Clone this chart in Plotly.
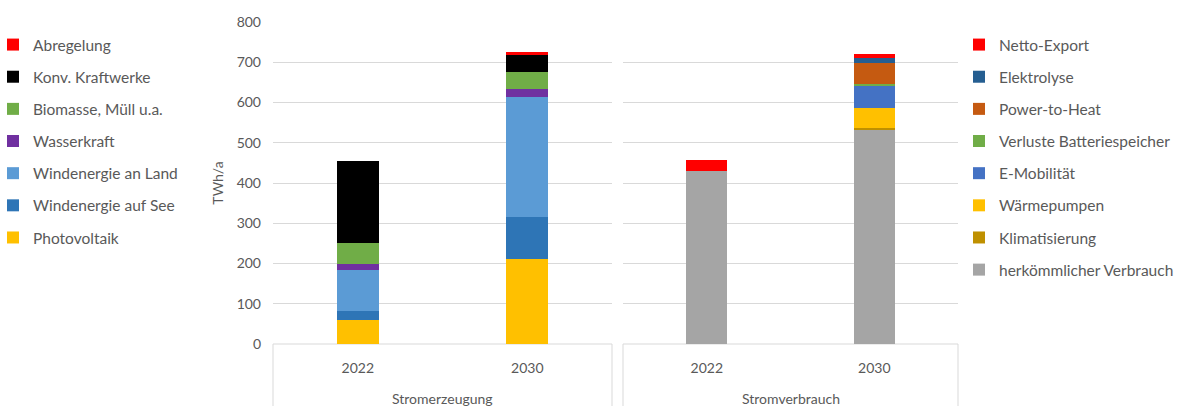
import plotly.graph_objects as go

years = ["2022", "2030"]

# Stromerzeugung (TWh/a), bottom to top
gen_series = ["Photovoltaik", "Windenergie auf See", "Windenergie an Land",
              "Wasserkraft", "Biomasse, Müll u.a.", "Konv. Kraftwerke", "Abregelung"]
gen_values = {
    "Photovoltaik": [60, 210],
    "Windenergie auf See": [23, 105],
    "Windenergie an Land": [101, 299],
    "Wasserkraft": [16, 19],
    "Biomasse, Müll u.a.": [52, 42],
    "Konv. Kraftwerke": [203, 43],
    "Abregelung": [0, 7],
}
gen_colors = {
    "Photovoltaik": "#FFC000",
    "Windenergie auf See": "#2E75B6",
    "Windenergie an Land": "#5B9BD5",
    "Wasserkraft": "#7030A0",
    "Biomasse, Müll u.a.": "#70AD47",
    "Konv. Kraftwerke": "#000000",
    "Abregelung": "#FF0000",
}

# Stromverbrauch (TWh/a), bottom to top
use_series = ["herkömmlicher Verbrauch", "Klimatisierung", "Wärmepumpen", "E-Mobilität",
              "Verluste Batteriespeicher", "Power-to-Heat", "Elektrolyse", "Netto-Export"]
use_values = {
    "herkömmlicher Verbrauch": [430, 532],
    "Klimatisierung": [0, 4],
    "Wärmepumpen": [0, 50],
    "E-Mobilität": [0, 56],
    "Verluste Batteriespeicher": [0, 3],
    "Power-to-Heat": [0, 54],
    "Elektrolyse": [0, 11],
    "Netto-Export": [27, 10],
}
use_colors = {
    "herkömmlicher Verbrauch": "#A5A5A5",
    "Klimatisierung": "#BF9000",
    "Wärmepumpen": "#FFC000",
    "E-Mobilität": "#4472C4",
    "Verluste Batteriespeicher": "#70AD47",
    "Power-to-Heat": "#C55A11",
    "Elektrolyse": "#255E91",
    "Netto-Export": "#FF0000",
}

group_labels = ["Stromerzeugung", "Stromverbrauch"]
y_ticks = [0, 100, 200, 300, 400, 500, 600, 700, 800]

FONT = "Lato"
TXT = "#595959"
GRID = "#D9D9D9"
LEG = 15.5
TICK = 14

fig = go.Figure()
n = len(gen_series)
for i, s in enumerate(gen_series):
    fig.add_trace(go.Bar(
        x=years, y=gen_values[s], name=s, marker=dict(color=gen_colors[s], line_width=0),
        xaxis="x", yaxis="y", legend="legend", legendrank=n - i, legendgroup="g%d" % i,
    ))
m = len(use_series)
for i, s in enumerate(use_series):
    fig.add_trace(go.Bar(
        x=years, y=use_values[s], name=s, marker=dict(color=use_colors[s], line_width=0),
        xaxis="x2", yaxis="y2", legend="legend2", legendrank=m - i, legendgroup="u%d" % i,
    ))

W, H = 1180, 406
ml, mr, mt, mb = 273, 222, 22, 62
pw = W - ml - mr
ph = H - mt - mb
d1 = [0, (612 - ml) / pw]
d2 = [(623 - ml) / pw, 1]

yax = dict(range=[0, 800], tickvals=y_ticks, showgrid=True, gridcolor=GRID, gridwidth=1,
           zeroline=False, showline=False, tickfont=dict(size=TICK, color=TXT, family=FONT))
xax = dict(type="category", showgrid=False, zeroline=False, showline=False, ticks="",
           tickfont=dict(size=TICK, color=TXT, family=FONT), ticklabelstandoff=14, fixedrange=True)

fig.update_layout(
    width=W, height=H, margin=dict(l=ml, r=mr, t=mt, b=mb, autoexpand=False),
    paper_bgcolor="white", plot_bgcolor="white",
    barmode="stack", bargap=0.755,
    font=dict(family=FONT, color=TXT, size=TICK),
    showlegend=True,
    xaxis=dict(domain=d1, anchor="y", **xax),
    xaxis2=dict(domain=d2, anchor="y2", **xax),
    yaxis=dict(anchor="x", title=dict(text="TWh/a", standoff=9, font=dict(size=TICK, color=TXT, family=FONT)),
               ticklabelstandoff=11, **yax),
    yaxis2=dict(anchor="x2", matches="y", showticklabels=False, **yax),
    legend=dict(x=(-7 - ml) / pw, xanchor="left", y=1 - (28 - mt) / ph, yanchor="top",
                font=dict(size=LEG, color=TXT, family=FONT), tracegroupgap=9,
                bgcolor="rgba(0,0,0,0)", itemclick=False),
    legend2=dict(x=(959 - ml) / pw, xanchor="left", y=1 - (28 - mt) / ph, yanchor="top",
                 font=dict(size=LEG, color=TXT, family=FONT), tracegroupgap=9,
                 bgcolor="rgba(0,0,0,0)", itemclick=False),
)

# category boxes under each panel
for xr in ["x domain", "x2 domain"]:
    fig.add_shape(type="rect", xref=xr, yref="paper", x0=0, x1=1, y0=0, y1=-0.3,
                  line=dict(color=GRID, width=1), fillcolor="rgba(0,0,0,0)", layer="below")
for xr, lab in zip(["x domain", "x2 domain"], group_labels):
    fig.add_annotation(xref=xr, yref="paper", x=0.5, y=-(398 - 344) / ph,
                       text=lab, showarrow=False, yanchor="middle",
                       font=dict(size=14, color=TXT, family=FONT))

fig.write_html("out.html")
